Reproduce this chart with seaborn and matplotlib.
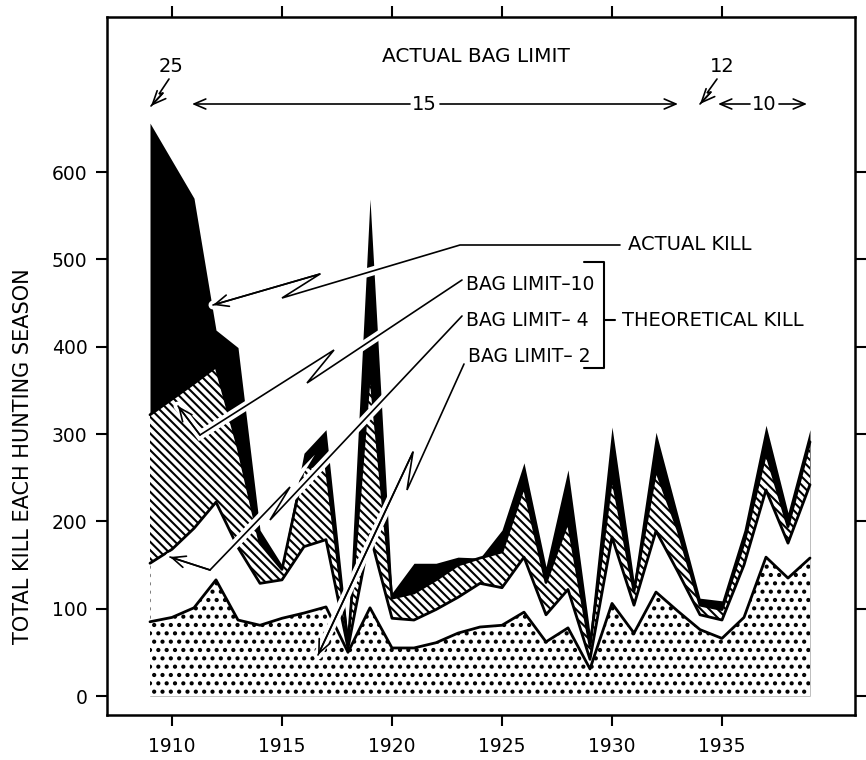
import matplotlib
matplotlib.use("Agg")
import matplotlib.pyplot as plt
import matplotlib.patheffects as pe
import pandas as pd
import seaborn as sns

# ---------------- data ----------------
years = list(range(1909, 1940))
actual_kill = [656, 613, 570, 419, 399, 190, 150, 278, 305, 68, 569, 118, 152, 152, 159,
               158, 190, 267, 148, 259, 72, 308, 132, 302, 207, 112, 109, 190, 310, 210, 305]
bag_limit_10 = [322, 340, 358, 377, 285, 175, 145, 262, 264, 60, 375, 112, 118, 133, 150,
                158, 165, 240, 130, 200, 57, 252, 120, 259, 190, 104, 99, 175, 279, 194, 291]
bag_limit_4 = [152, 168, 192, 222, 170, 129, 133, 171, 179, 55, 185, 89, 87, 99, 113,
               129, 124, 159, 93, 122, 42, 182, 104, 189, 142, 93, 87, 150, 236, 175, 242]
bag_limit_2 = [85, 90, 101, 133, 87, 81, 89, 95, 102, 50, 101, 55, 55, 61, 72,
               79, 81, 96, 62, 78, 31, 106, 72, 119, 97, 76, 66, 90, 159, 135, 158]
x_ticks = [1910, 1915, 1920, 1925, 1930, 1935]
y_ticks = [0, 100, 200, 300, 400, 500, 600]

df = pd.DataFrame({"year": years, "actual": actual_kill, "b10": bag_limit_10,
                   "b4": bag_limit_4, "b2": bag_limit_2})

# ---------------- style ----------------
sns.set_theme(style="ticks")
plt.rcParams['font.family'] = ['DejaVu Sans']
plt.rcParams['hatch.color'] = 'black'
plt.rcParams['text.color'] = 'black'
plt.rcParams['axes.labelcolor'] = 'black'

W, H = 866, 760
fig = plt.figure(figsize=(W / 100, H / 100), dpi=100)
L, R, T, B = 107, 855, 17, 715
ax = fig.add_axes([L / W, 1 - B / H, (R - L) / W, (B - T) / H])

# reference pixel -> data helper (for annotations only)
X0, PXY = 172, 22.0
Y0, PYV = 696, 0.8733
def P(px, py):
    return (1910 + (px - X0) / PXY, (Y0 - py) / PYV)

ax.set_xlim(P(L, 0)[0], P(R, 0)[0])
ax.set_ylim(P(0, B)[1], P(0, T)[1])

# ---------------- areas ----------------
ax.fill_between(df["year"], 0, df["actual"], color="black", lw=0, zorder=1)
plt.rcParams['hatch.linewidth'] = 1.5
ax.fill_between(df["year"], 0, df["b10"], facecolor="white", edgecolor="black",
                hatch="\\\\\\\\", lw=0, zorder=2)
ax.fill_between(df["year"], 0, df["b4"], facecolor="white", lw=0, zorder=3)
plt.rcParams['hatch.linewidth'] = 1.8
ax.fill_between(df["year"], 0, df["b2"], facecolor="white", edgecolor="black",
                hatch="..", lw=0, zorder=4)

for col, z in [("b10", 2.5), ("b4", 3.5), ("b2", 4.5)]:
    sns.lineplot(data=df, x="year", y=col, color="black", lw=2.0, ax=ax,
                 zorder=z, legend=False)

# ---------------- axes ----------------
ax.set_xticks(x_ticks)
ax.set_xticklabels([str(t) for t in x_ticks])
ax.set_yticks(y_ticks)
ax.set_yticklabels([str(t) for t in y_ticks])
ax.set_xlabel("")
ax.set_ylabel("TOTAL KILL EACH HUNTING SEASON", fontsize=15, color="black")
ax.yaxis.set_label_coords((33 - L) / (R - L), (B - 456) / (B - T))
for s in ax.spines.values():
    s.set_visible(True)
    s.set_linewidth(1.8)
    s.set_color("black")
ax.tick_params(axis="both", which="major", direction="out", length=8, width=1.5,
               colors="black", labelsize=13.5, top=True, right=True,
               labeltop=False, labelright=False)
ax.tick_params(axis="x", pad=8)
ax.tick_params(axis="y", pad=6)

# ---------------- annotations ----------------
def halo_path(pts, arrow=True, z=7):
    xs, ys = zip(*[P(*p) for p in pts])
    ax.plot(xs, ys, color="black", lw=1.2, solid_joinstyle="miter",
            path_effects=[pe.Stroke(linewidth=6.5, foreground="white"), pe.Normal()],
            zorder=z)
    if arrow:
        ax.annotate("", xy=(xs[-1], ys[-1]), xytext=(xs[-2], ys[-2]),
                    arrowprops=dict(arrowstyle="->,head_length=0.8,head_width=0.35",
                                    color="black", lw=1.2, shrinkA=0, shrinkB=0),
                    zorder=z + 0.1)

def arrow(p_from, p_to):
    ax.annotate("", xy=P(*p_to), xytext=P(*p_from),
                arrowprops=dict(arrowstyle="->,head_length=0.7,head_width=0.3",
                                color="black", lw=1.2, shrinkA=0, shrinkB=0),
                zorder=8)

def text(px, py, s, ha="center", size=14):
    ax.text(*P(px, py), s, ha=ha, va="center", fontsize=size, color="black", zorder=9)

# actual bag limit header
text(476, 57, "ACTUAL BAG LIMIT", size=14.5)
text(171, 66, "25")
halo_path([(169, 79), (159, 94), (163, 93), (151, 106)])
text(722, 66, "12")
halo_path([(717, 79), (707, 93), (711, 92), (700, 104)])
text(424, 104, "15")
arrow((410, 104), (192, 104))
arrow((440, 104), (678, 104))
text(764, 104, "10")
arrow((750, 104), (718, 104))
arrow((779, 104), (807, 104))

# pointers
halo_path([(620, 245), (460, 245), (282, 298), (320, 274), (213, 305)])
halo_path([(462, 280), (307, 383), (334, 350), (200, 435), (178, 406)])
halo_path([(462, 316), (270, 520), (290, 487), (210, 570), (170, 557)])
halo_path([(464, 364), (407, 490), (413, 452), (318, 655)])

text(628, 245, "ACTUAL KILL", ha="left", size=14)
text(466, 285, "BAG LIMIT\u201310", ha="left", size=13.5)
text(466, 320, "BAG LIMIT\u2013 4", ha="left", size=13.5)
text(468, 356, "BAG LIMIT\u2013 2", ha="left", size=13.5)
text(622, 320, "THEORETICAL KILL", ha="left", size=14)
bx, by = zip(*[P(*p) for p in [(584, 262), (604, 262), (604, 368), (584, 368)]])
ax.plot(bx, by, color="black", lw=1.5, zorder=8)
tx, ty = zip(*[P(*p) for p in [(604, 320), (615, 320)]])
ax.plot(tx, ty, color="black", lw=1.5, zorder=8)

fig.savefig("out.png", dpi=100)
